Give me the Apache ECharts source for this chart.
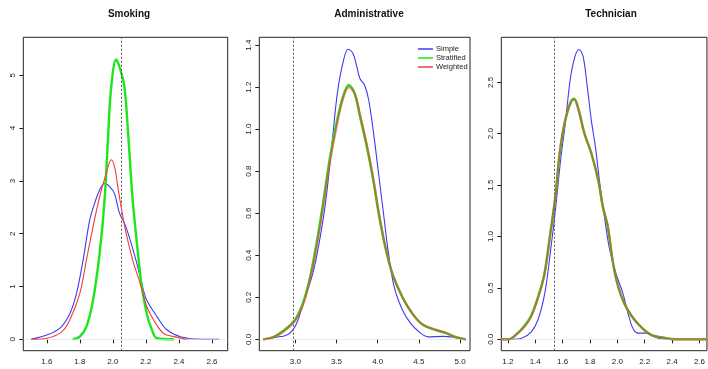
<!DOCTYPE html>
<html>
<head>
<meta charset="utf-8">
<script src="https://cdn.jsdelivr.net/npm/echarts@6/dist/echarts.min.js"></script>
<style>
  html, body { margin: 0; padding: 0; background: #fff; }
  #chart { width: 708px; height: 369px; }
</style>
</head>
<body>
<div id="chart"></div>
<script>
// density curves, [x, density]
const smokingSimple = [[1.505,0],[1.60,0.08],[1.68,0.21],[1.74,0.49],[1.78,0.87],[1.82,1.50],[1.86,2.26],[1.89,2.58],[1.92,2.83],[1.95,2.95],[1.98,2.89],[2.01,2.76],[2.04,2.39],[2.07,2.20],[2.105,1.88],[2.145,1.44],[2.185,0.93],[2.205,0.74],[2.267,0.43],[2.327,0.18],[2.41,0.05],[2.53,0],[2.644,0]]
const smokingStratified = [[1.757,0],[1.80,0.05],[1.84,0.24],[1.88,0.74],[1.92,1.63],[1.95,2.64],[1.97,3.77],[1.99,4.78],[2.02,5.30],[2.04,5.16],[2.07,4.78],[2.095,3.77],[2.12,2.64],[2.15,1.69],[2.175,1.00],[2.205,0.49],[2.236,0.18],[2.267,0.02],[2.37,0]]
const smokingWeighted = [[1.505,0],[1.60,0.02],[1.69,0.14],[1.74,0.37],[1.80,0.87],[1.84,1.50],[1.88,2.13],[1.92,2.70],[1.96,3.14],[1.99,3.40],[2.01,3.27],[2.03,2.89],[2.05,2.51],[2.08,2.01],[2.12,1.50],[2.165,1.06],[2.205,0.62],[2.246,0.37],[2.307,0.11],[2.37,0.05],[2.45,0]]

const adminSimple = [[2.61,0],[2.77,0.01],[2.89,0.02],[2.97,0.044],[3.03,0.09],[3.11,0.19],[3.21,0.31],[3.29,0.46],[3.37,0.66],[3.45,0.95],[3.51,1.17],[3.575,1.31],[3.64,1.38],[3.70,1.36],[3.745,1.30],[3.785,1.24],[3.84,1.21],[3.89,1.14],[3.95,0.98],[4.01,0.79],[4.07,0.60],[4.13,0.41],[4.20,0.25],[4.30,0.14],[4.40,0.076],[4.50,0.036],[4.61,0.012],[4.79,0.014],[4.95,0.008],[5.05,0]]
const adminStratified = [[2.61,0],[2.73,0.01],[2.85,0.04],[2.99,0.09],[3.09,0.17],[3.17,0.28],[3.25,0.44],[3.33,0.63],[3.41,0.84],[3.49,1.01],[3.575,1.15],[3.65,1.21],[3.72,1.17],[3.785,1.06],[3.86,0.93],[3.94,0.77],[4.02,0.58],[4.10,0.425],[4.18,0.31],[4.30,0.20],[4.425,0.12],[4.55,0.068],[4.71,0.044],[4.83,0.03],[4.95,0.01],[5.07,0]]
const adminWeighted = [[2.61,0],[2.73,0.01],[2.85,0.035],[2.99,0.085],[3.09,0.16],[3.17,0.27],[3.25,0.42],[3.33,0.61],[3.41,0.82],[3.49,0.99],[3.575,1.14],[3.65,1.20],[3.72,1.17],[3.785,1.07],[3.86,0.94],[3.94,0.78],[4.02,0.59],[4.10,0.43],[4.18,0.31],[4.30,0.20],[4.425,0.12],[4.55,0.07],[4.71,0.045],[4.83,0.03],[4.95,0.01],[5.07,0]]

const techSimple = [[1.152,0],[1.23,0],[1.30,0.01],[1.37,0.07],[1.42,0.19],[1.47,0.45],[1.51,0.84],[1.55,1.29],[1.585,1.74],[1.62,2.10],[1.655,2.52],[1.69,2.75],[1.72,2.82],[1.75,2.75],[1.78,2.46],[1.81,2.13],[1.84,1.87],[1.875,1.48],[1.906,1.19],[1.94,0.90],[1.99,0.64],[2.04,0.45],[2.085,0.22],[2.12,0.09],[2.155,0.06],[2.20,0.06],[2.24,0.05],[2.275,0.02],[2.35,0],[2.66,0]]
const techStratified = [[1.152,0],[1.205,0],[1.264,0.05],[1.32,0.13],[1.37,0.23],[1.42,0.41],[1.466,0.63],[1.51,1.03],[1.55,1.42],[1.573,1.74],[1.60,2.00],[1.633,2.20],[1.67,2.33],[1.685,2.34],[1.716,2.24],[1.76,2.00],[1.81,1.81],[1.86,1.55],[1.894,1.29],[1.93,1.10],[1.965,0.77],[2.00,0.54],[2.05,0.35],[2.108,0.22],[2.18,0.11],[2.25,0.04],[2.32,0.02],[2.42,0],[2.66,0]]
const techWeighted = [[1.152,0],[1.205,0],[1.264,0.05],[1.32,0.12],[1.37,0.22],[1.42,0.40],[1.466,0.62],[1.51,1.02],[1.55,1.42],[1.573,1.75],[1.60,2.01],[1.633,2.21],[1.67,2.33],[1.685,2.33],[1.716,2.23],[1.76,2.00],[1.81,1.81],[1.86,1.55],[1.894,1.29],[1.93,1.10],[1.965,0.77],[2.00,0.54],[2.05,0.35],[2.108,0.22],[2.18,0.11],[2.25,0.04],[2.32,0.02],[2.42,0],[2.66,0]]

const titles = ['Smoking', 'Administrative', 'Technician']
const refLines = [2.05, 2.975, 1.545]
const xTicks = [
  [1.6, 1.8, 2.0, 2.2, 2.4, 2.6],
  [3.0, 3.5, 4.0, 4.5, 5.0],
  [1.2, 1.4, 1.6, 1.8, 2.0, 2.2, 2.4, 2.6]
]
const yTicks = [
  [0, 1, 2, 3, 4, 5],
  [0, 0.2, 0.4, 0.6, 0.8, 1.0, 1.2, 1.4],
  [0, 0.5, 1.0, 1.5, 2.0, 2.5]
]
const seriesNames = ['Simple', 'Stratified', 'Weighted']

const panels = [
  { left: 23.3, width: 204.4, center: 124, xMin: 1.458, xMax: 2.695, yMin: -0.216, yMax: 5.72, yDigits: 0, data: [smokingSimple, smokingStratified, smokingWeighted] },
  { left: 259.3, width: 210.7, center: 364, xMin: 2.563, xMax: 5.12, yMin: -0.054, yMax: 1.437, yDigits: 1, data: [adminSimple, adminStratified, adminWeighted] },
  { left: 501.3, width: 210.7, center: 606, xMin: 1.152, xMax: 2.655, yMin: -0.111, yMax: 2.938, yDigits: 1, data: [techSimple, techStratified, techWeighted] }
]

const colors = ['#3c3cf2', '#1ee61e', '#f03c3c']
const widths = [1.1, 2.4, 1.1]
const font = 'Liberation Sans, Arial, sans-serif'

const chart = echarts.init(document.getElementById('chart'))

const grid = [], xAxis = [], yAxis = [], series = [], title = []
panels.forEach((p, i) => {
  grid.push({ left: p.left, top: 37.3, width: p.width, height: 313.4, show: true, borderColor: '#222', borderWidth: 1, backgroundColor: 'transparent' })
  title.push({ text: titles[i], left: p.center, top: 4, textAlign: 'center', textStyle: { fontFamily: font, fontSize: 10, fontWeight: 'bold', color: '#111' } })
  xAxis.push({
    type: 'value', gridIndex: i, min: p.xMin, max: p.xMax,
    axisLine: { show: false },
    axisTick: { show: true, length: 4, lineStyle: { color: '#222' }, customValues: xTicks[i] },
    axisLabel: { customValues: xTicks[i], margin: 7, fontSize: 8, fontFamily: font, color: '#222', formatter: v => v.toFixed(1) },
    splitLine: { show: false }
  })
  yAxis.push({
    type: 'value', gridIndex: i, min: p.yMin, max: p.yMax,
    axisLine: { show: false },
    axisTick: { show: true, length: 4, lineStyle: { color: '#222' }, customValues: yTicks[i] },
    axisLabel: { customValues: yTicks[i], rotate: 90, margin: 7, fontSize: 8, fontFamily: font, color: '#222', formatter: v => v.toFixed(p.yDigits) },
    splitLine: { show: false }
  })
  p.data.forEach((d, k) => {
    // in the two right panels red lies right on top of green, which reads as olive
    const overlap = k === 2 && i > 0
    const s = {
      name: seriesNames[k], type: 'line', xAxisIndex: i, yAxisIndex: i,
      data: d, smooth: 0.35, symbol: 'none', z: 3 + k,
      lineStyle: { color: colors[k], width: overlap ? 2.2 : widths[k], opacity: overlap ? 0.6 : 1 },
      itemStyle: { color: colors[k] }
    }
    if (k === 0) {
      s.markLine = {
        silent: true, symbol: ['none', 'none'], label: { show: false }, animation: false,
        data: [
          { xAxis: refLines[i], lineStyle: { color: '#555', width: 1, type: [2, 2] } },
          { yAxis: 0, lineStyle: { color: '#ddd', width: 0.6, type: 'solid' } }
        ]
      }
    }
    series.push(s)
  })
})

chart.setOption({
  animation: false,
  title,
  grid,
  xAxis,
  yAxis,
  legend: {
    data: seriesNames,
    orient: 'vertical',
    left: 413, top: 40,
    icon: 'rect', itemWidth: 15, itemHeight: 1.5, itemGap: 1,
    selectedMode: false,
    textStyle: { fontFamily: font, fontSize: 7.5, color: '#222', lineHeight: 8, padding: [0, 0, 0, -2] }
  },
  series
})
</script>
</body>
</html>
